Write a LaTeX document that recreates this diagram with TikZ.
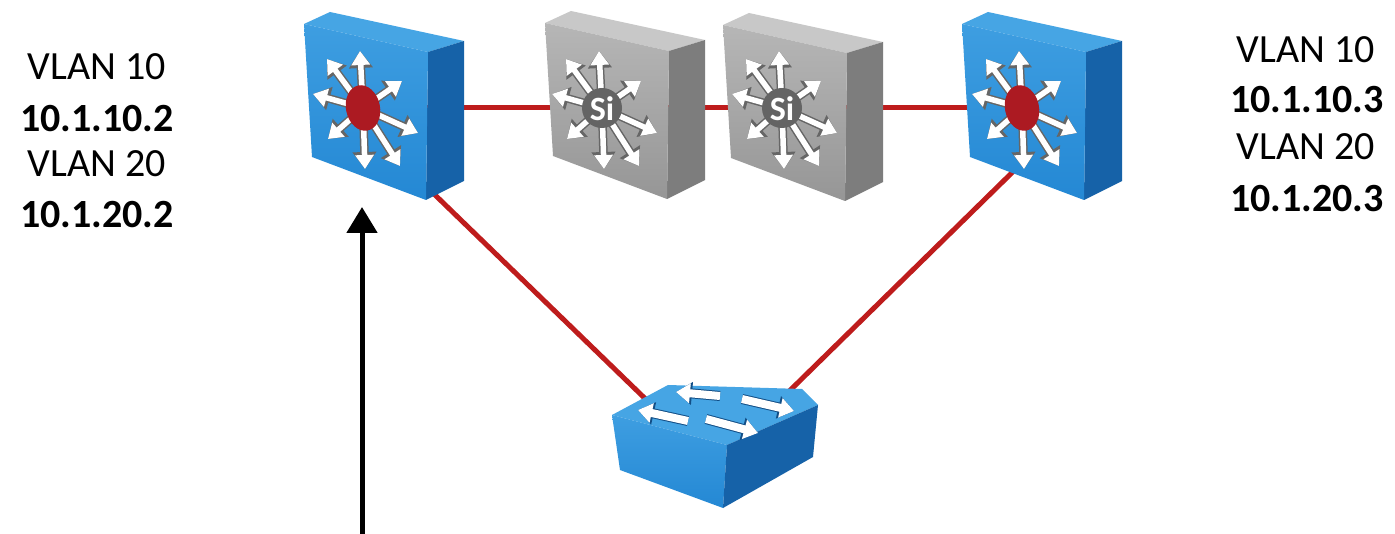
\documentclass[tikz,border=0pt]{standalone}
\usepackage{fontspec}
\setmainfont{Carlito}
\usetikzlibrary{arrows.meta}

\definecolor{bluefront}{RGB}{36,136,212}
\definecolor{bluefronthi}{RGB}{62,158,225}
\definecolor{bluetop}{RGB}{70,165,228}
\definecolor{blueside}{RGB}{22,98,168}
\definecolor{grayfront}{RGB}{150,150,150}
\definecolor{grayfronthi}{RGB}{182,182,182}
\definecolor{graytop}{RGB}{200,200,200}
\definecolor{grayside}{RGB}{125,125,125}
\definecolor{linkred}{RGB}{190,28,28}
\definecolor{dotred}{RGB}{172,26,34}
\definecolor{sigray}{RGB}{100,100,100}

% chassis: #1 front-top-left corner, #2 front, #3 front highlight, #4 top, #5 side
\newcommand\chassisbox[5]{%
  \begin{scope}[shift={#1}]
    \fill[#4] (0,0) -- (26,-12) -- (160,17) -- (124,28) -- cycle;
    \fill[#5] (124,28) -- (160,17) -- (160,157) -- (122,176) -- cycle;
    \shade[top color=#3, bottom color=#2] (0,0) -- (124,28) -- (122,176) -- (8,133) -- cycle;
  \end{scope}}

% eight white arrows radiating from a centre point
\newcommand\starburst[1]{%
  \begin{scope}[shift={#1}]
    \foreach \dx/\dy in {-3/-57, -36/-49, -50/-14, -35/31, 2/61, 37/58, 55/25, 39/-27}
      \draw[rayshadow] (0,0) -- (\dx,\dy);
    \foreach \dx/\dy in {-3/-57, -36/-49, -50/-14, -35/31, 2/61, 37/58, 55/25, 39/-27}
      \draw[raywhite] (0,0) -- (\dx,\dy);
  \end{scope}}

\begin{document}
\begin{tikzpicture}[x=1pt,y=-1pt,
  redlink/.style={draw=linkred, line width=5},
  rayshadow/.style={draw=black!60, line width=8.5, -{Triangle[length=17,width=23]}},
  raywhite/.style={draw=white, line width=5.5, -{Triangle[length=14,width=18]}},
  flatshadow/.style={draw=blueside!80!black, line width=10, -{Triangle[length=16,width=22]}},
  flatwhite/.style={draw=white, line width=8, -{Triangle[length=14,width=19]}},
  vtext/.style={anchor=base, inner sep=0pt, font=\fontsize{40}{48}\selectfont},
  btext/.style={vtext, font=\fontsize{40}{48}\selectfont\bfseries},
  sitext/.style={text=white, inner sep=0pt, font=\fontsize{34}{34}\selectfont\bfseries}]

\useasboundingbox[fill=white] (0,0) rectangle (1395,534);

% device reference points
\coordinate (core1) at (363,108);
\coordinate (si1) at (602,108);
\coordinate (si2) at (782,108);
\coordinate (core2) at (1022,108);
\coordinate (core1-down) at (400,161);
\coordinate (core2-down) at (1030,155);
\coordinate (access-left) at (660,413);
\coordinate (access-right) at (770,410);
\coordinate (src) at (362,540);
\coordinate (tip) at (362,207);

% links, drawn under the chassis
\draw[redlink] (core1) -- (si1);
\draw[redlink] (si1) -- (si2);
\draw[redlink] (si2) -- (core2);
\draw[redlink] (core1-down) -- (access-left);
\draw[redlink] (core2-down) -- (access-right);

% layer 3 switches
\chassisbox{(304,24)}{bluefront}{bluefronthi}{bluetop}{blueside}
\starburst{(363,108)}
\fill[dotred, rotate around={12:(363,108)}] (363,108) ellipse [x radius=17, y radius=23];

\chassisbox{(962,24)}{bluefront}{bluefronthi}{bluetop}{blueside}
\starburst{(1022,108)}
\fill[dotred, rotate around={12:(1022,108)}] (1022,108) ellipse [x radius=17, y radius=23];

% Si switches
\chassisbox{(545,23)}{grayfront}{grayfronthi}{graytop}{grayside}
\starburst{(602,108)}
\fill[sigray] (602,108) circle [radius=20];
\node[sitext] (si1label) at (602,109) {Si};

\chassisbox{(723,25)}{grayfront}{grayfronthi}{graytop}{grayside}
\starburst{(782,108)}
\fill[sigray] (782,108) circle [radius=20];
\node[sitext] (si2label) at (782,109) {Si};

% access switch
\fill[bluetop] (612,415) -- (668,385) -- (802,389) -- (818,405) -- (727,445) -- cycle;
\shade[top color=bluefronthi, bottom color=bluefront] (612,415) -- (727,445) -- (723,508) -- (620,470) -- cycle;
\fill[blueside] (727,445) -- (818,405) -- (813,457) -- (723,508) -- cycle;
\coordinate (a1s) at (720,396); \coordinate (a1e) at (676,392);
\coordinate (a2s) at (688,421); \coordinate (a2e) at (638,410);
\coordinate (a3s) at (742,399); \coordinate (a3e) at (794,411);
\coordinate (a4s) at (706,419); \coordinate (a4e) at (758,433);
\foreach \s/\e in {a1s/a1e, a2s/a2e, a3s/a3e, a4s/a4e}
  \draw[flatshadow, shift={(1.5,2)}] (\s) -- (\e);
\foreach \s/\e in {a1s/a1e, a2s/a2e, a3s/a3e, a4s/a4e}
  \draw[flatwhite] (\s) -- (\e);

% traffic arrow
\draw[line width=5, -{Triangle[length=26,width=30]}] (src) -- (tip);

% addressing
\node[vtext] (l1) at (97,80) {VLAN 10};
\node[btext] (l2) at (97,132) {10.1.10.2};
\node[vtext] (l3) at (97,177) {VLAN 20};
\node[btext] (l4) at (97,228) {10.1.20.2};
\node[vtext] (r1) at (1306,63) {VLAN 10};
\node[btext] (r2) at (1307,113) {10.1.10.3};
\node[vtext] (r3) at (1306,160) {VLAN 20};
\node[btext] (r4) at (1307,212) {10.1.20.3};
\end{tikzpicture}
\end{document}
